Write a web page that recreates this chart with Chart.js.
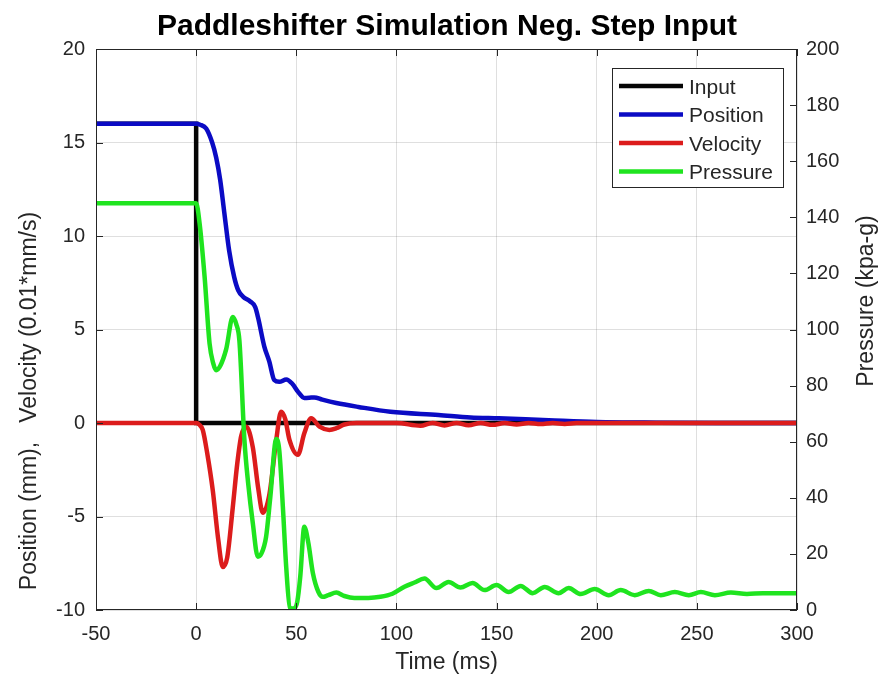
<!DOCTYPE html>
<html>
<head>
<meta charset="utf-8">
<title>Paddleshifter Simulation Neg. Step Input</title>
<script src="https://cdn.jsdelivr.net/npm/chart.js@4.4.1/dist/chart.umd.min.js"></script>
<style>
  html, body { margin: 0; padding: 0; background: #ffffff; overflow: hidden; }
  canvas { display: block; }
</style>
</head>
<body>
<canvas id="chart" width="894" height="688"></canvas>
<script>
// ---- axis ticks ----
const timeTicks = [-50, 0, 50, 100, 150, 200, 250, 300];
const leftTicks = [-10, -5, 0, 5, 10, 15, 20];
const pressureTicks = [0, 20, 40, 60, 80, 100, 120, 140, 160, 180, 200];

// ---- Input: negative step at t = 0 (mm) ----
const inputTime  = [-50, 0, 0, 300];
const inputValue = [16, 16, 0, 0];

// ---- Position (mm) ----
const positionTime  = [-50, 0, 2, 5, 8, 10, 12, 14, 16.5, 19, 21, 23.5, 27, 29.5, 31, 34, 36.5, 39, 41.5, 45, 48, 51, 54, 56.5, 59, 63, 70, 81, 97, 121, 137, 151, 176, 200, 230, 260, 300];
const positionValue = [16, 16, 15.95, 15.75, 15.0, 14.2, 13.0, 11.3, 9.2, 7.8, 7.1, 6.75, 6.5, 6.2, 5.6, 4.1, 3.3, 2.3, 2.2, 2.33, 2.1, 1.65, 1.34, 1.35, 1.37, 1.25, 1.07, 0.86, 0.6, 0.43, 0.3, 0.25, 0.15, 0.06, 0.02, 0.0, 0.0];

// ---- Velocity (0.01*mm/s) ----
const velocityTime  = [-50, 0, 1.5, 3.3, 5.5, 8.3, 11, 13.3, 15.5, 18.3, 20.5, 22.5, 25, 28.3, 31, 33.3, 36.6, 40, 42.4, 44.5, 46.6, 50.8, 54, 57.4, 61.6, 66.5, 70, 74, 80, 100, 112, 118, 124, 130, 136, 142, 148, 154, 160, 166, 172, 178, 184, 190, 200, 300];
const velocityValue = [0, 0, -0.08, -0.37, -1.6, -3.6, -6.2, -7.7, -7.2, -4.5, -2.2, -0.7, -0.2, -1.3, -3.5, -4.8, -3.8, -0.9, 0.6, 0.2, -0.9, -1.7, -0.55, 0.25, -0.2, -0.37, -0.28, -0.08, 0, 0, -0.15, 0, -0.13, 0, -0.12, 0, -0.1, 0, -0.08, 0, -0.06, 0, -0.05, 0, 0, 0];

// ---- Pressure (kpa-g), right axis ----
const pressureTime  = [-50, 0, 1.7, 4.2, 6.7, 8.5, 10, 12, 15, 18.3, 20, 21.6, 24.1, 26, 28.3, 30.8, 32.5, 34.9, 37, 40, 41.5, 43.3, 45, 46.8, 48.5, 50.5, 52, 54, 56, 58.3, 61, 63.2, 66, 70, 74, 79, 86, 92, 98, 104, 109, 114, 120, 126, 132, 138, 144, 150, 156, 162, 168, 174, 181, 186, 192, 199, 206, 212, 219, 226, 232, 239, 246, 252, 259, 267, 275, 283, 292, 300];
const pressureValue = [145, 145, 138, 119, 95, 88, 85.5, 87, 93, 104.5, 102, 96, 60.6, 45, 30.9, 19, 20, 26, 40, 61, 57, 36.8, 15, 0.8, 0.5, 3, 12, 29.7, 24, 13.1, 6.5, 4.7, 5.3, 6.2, 5.0, 4.3, 4.3, 4.7, 5.8, 8.3, 9.8, 11.2, 7.8, 10, 8, 9.6, 7.1, 8.9, 6.4, 8.6, 6, 8.2, 6, 7.8, 5.7, 7.5, 5.3, 7.1, 5.3, 6.8, 5.3, 6.4, 5.3, 6.4, 5.3, 6.2, 5.7, 6, 6, 6];

const pairs = (xs, ys) => xs.map((x, i) => ({ x, y: ys[i] }));

const FONT = '"Liberation Sans", Arial, Helvetica, sans-serif';
const INK = '#262626';
const LINE_W = 4.5;

// Frame, inward tick marks, axis labels and the boxed legend
const framePlugin = {
  id: 'frame',
  afterDraw(chart) {
    const { ctx, chartArea: a, scales } = chart;
    ctx.save();

    ctx.strokeStyle = INK;
    ctx.lineWidth = 1;
    ctx.strokeRect(Math.round(a.left) + 0.5, Math.round(a.top) + 0.5,
                   Math.round(a.right - a.left) - 1, Math.round(a.bottom - a.top) - 1);

    const L = 7;
    ctx.beginPath();
    timeTicks.forEach(v => {
      const x = Math.round(scales.x.getPixelForValue(v)) + 0.5;
      ctx.moveTo(x, a.bottom); ctx.lineTo(x, a.bottom - L);
      ctx.moveTo(x, a.top);    ctx.lineTo(x, a.top + L);
    });
    leftTicks.forEach(v => {
      const y = Math.round(scales.y.getPixelForValue(v)) + 0.5;
      ctx.moveTo(a.left, y); ctx.lineTo(a.left + L, y);
    });
    pressureTicks.forEach(v => {
      const y = Math.round(scales.y1.getPixelForValue(v)) + 0.5;
      ctx.moveTo(a.right, y); ctx.lineTo(a.right - L, y);
    });
    ctx.stroke();

    // axis labels
    ctx.fillStyle = INK;
    ctx.font = '23px ' + FONT;
    ctx.textAlign = 'center';
    ctx.textBaseline = 'middle';
    ctx.fillText('Time (ms)', (a.left + a.right) / 2, 663);

    ctx.save();
    ctx.translate(30, 401);
    ctx.rotate(-Math.PI / 2);
    ctx.fillText('Position (mm),   Velocity (0.01*mm/s)', 0, 0);
    ctx.restore();

    ctx.save();
    ctx.translate(867, 301);
    ctx.rotate(-Math.PI / 2);
    ctx.fillText('Pressure (kpa-g)', 0, 0);
    ctx.restore();

    // legend
    const bx = a.right - 185, by = a.top + 19, bw = 171, bh = 119;
    ctx.fillStyle = '#ffffff';
    ctx.fillRect(bx, by, bw, bh);
    ctx.strokeStyle = INK;
    ctx.lineWidth = 1;
    ctx.strokeRect(bx + 0.5, by + 0.5, bw, bh);
    ctx.font = '21px ' + FONT;
    ctx.textAlign = 'left';
    chart.data.datasets.forEach((ds, i) => {
      const cy = by + 19 + i * 28.5;
      ctx.strokeStyle = ds.borderColor;
      ctx.lineWidth = LINE_W;
      ctx.beginPath();
      ctx.moveTo(bx + 7, cy - 1);
      ctx.lineTo(bx + 71, cy - 1);
      ctx.stroke();
      ctx.fillStyle = INK;
      ctx.fillText(ds.label, bx + 77, cy + 1);
    });

    ctx.restore();
  }
};

const lineStyle = {
  borderWidth: LINE_W,
  pointRadius: 0,
  fill: false,
  cubicInterpolationMode: 'monotone',
  borderCapStyle: 'round',
  borderJoinStyle: 'round'
};

new Chart(document.getElementById('chart'), {
  type: 'line',
  data: {
    datasets: [
      { label: 'Input', data: pairs(inputTime, inputValue), borderColor: '#050505', yAxisID: 'y', order: 4,
        borderWidth: LINE_W, pointRadius: 0, fill: false, tension: 0, borderJoinStyle: 'miter' },
      Object.assign({ label: 'Position', data: pairs(positionTime, positionValue), borderColor: '#0b0bc4', yAxisID: 'y', order: 3 }, lineStyle),
      Object.assign({ label: 'Velocity', data: pairs(velocityTime, velocityValue), borderColor: '#dc1c1c', yAxisID: 'y', order: 2 }, lineStyle),
      Object.assign({ label: 'Pressure', data: pairs(pressureTime, pressureValue), borderColor: '#1fe41f', yAxisID: 'y1', order: 1 }, lineStyle)
    ]
  },
  options: {
    responsive: false,
    devicePixelRatio: 1,
    animation: false,
    events: [],
    layout: { padding: 0 },
    plugins: {
      legend: { display: false },
      tooltip: { enabled: false },
      title: {
        display: true,
        text: 'Paddleshifter Simulation Neg. Step Input',
        color: '#000000',
        font: { family: FONT, size: 30, weight: 'bold', lineHeight: 1.2 },
        padding: { top: 9, bottom: 4 }
      }
    },
    scales: {
      x: {
        type: 'linear',
        min: -50, max: 300,
        afterBuildTicks: s => { s.ticks = timeTicks.map(v => ({ value: v })); },
        afterFit: s => { s.height = 78; },
        ticks: { color: INK, font: { family: FONT, size: 20 }, padding: 12, maxRotation: 0 },
        grid: { color: 'rgba(38,38,38,0.15)', lineWidth: 1, drawTicks: false },
        border: { display: false }
      },
      y: {
        position: 'left',
        min: -10, max: 20,
        afterBuildTicks: s => { s.ticks = leftTicks.map(v => ({ value: v })); },
        afterFit: s => { s.width = 96; },
        ticks: { color: INK, font: { family: FONT, size: 20 }, padding: 11 },
        grid: { color: 'rgba(38,38,38,0.15)', lineWidth: 1, drawTicks: false },
        border: { display: false }
      },
      y1: {
        position: 'right',
        min: 0, max: 200,
        afterBuildTicks: s => { s.ticks = pressureTicks.map(v => ({ value: v })); },
        afterFit: s => { s.width = 97; },
        ticks: { color: INK, font: { family: FONT, size: 20 }, padding: 9 },
        grid: { drawOnChartArea: false, drawTicks: false },
        border: { display: false }
      }
    }
  },
  plugins: [framePlugin]
});
</script>
</body>
</html>
